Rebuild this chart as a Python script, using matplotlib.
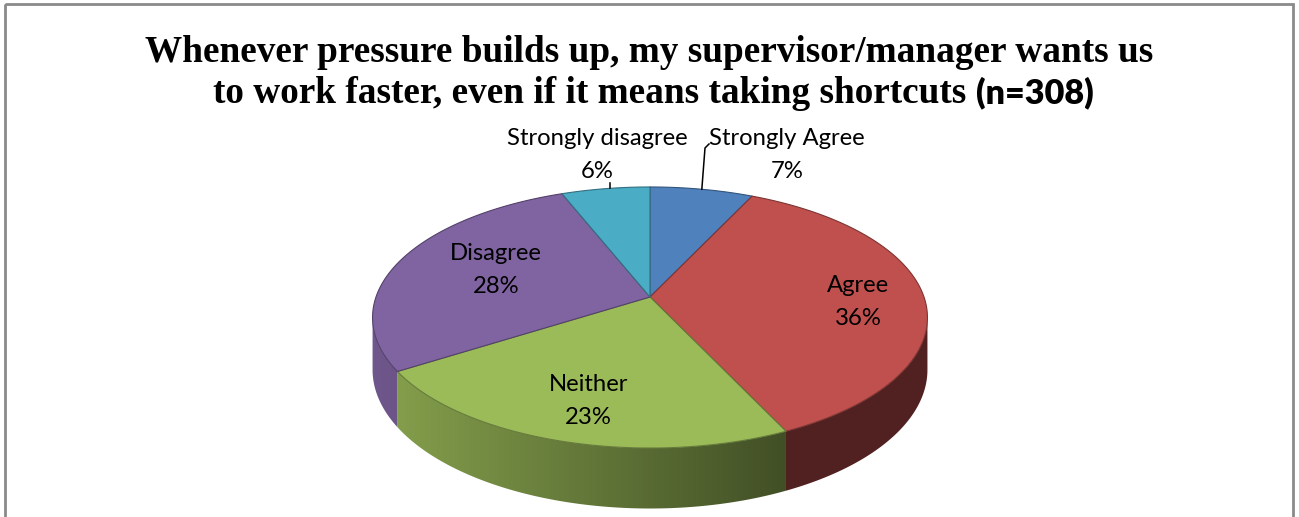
import numpy as np
import matplotlib
matplotlib.use('Agg')
import matplotlib.pyplot as plt
from matplotlib.patches import Polygon, Rectangle
from matplotlib.colors import to_rgb

# survey answers, clockwise from 12 o'clock
labels = ['Strongly Agree', 'Agree', 'Neither', 'Disagree', 'Strongly disagree']
shares = [7, 36, 23, 28, 6]
colors = ['#4F81BD', '#C0504D', '#9BBB59', '#8064A2', '#4BACC6']

title_1 = 'Whenever pressure builds up, my supervisor/manager wants us'
title_2 = 'to work faster, even if it means taking shortcuts'
title_n = '(n=308)'

W, H = 1299, 517
fig = plt.figure(figsize=(W / 100, H / 100), dpi=100)
ax = fig.add_axes([0, 0, 1, 1])
ax.set_xlim(0, W)
ax.set_ylim(H, 0)
ax.axis('off')

# tilted disc seen in perspective: (u, v) on the unit circle -> screen pixels
cx, cy = 650, 297
a, b, k = 274.0, 127.3, 0.157
depth = 51.0


def rim(theta, r=1.0):
    t = np.radians(theta)
    u, v = r * np.sin(t), r * np.cos(t)
    w = 1 + k * v
    return cx + a * u / w, cy - b * v / w, w


def shade(x):
    return np.clip(0.85 - (x - 390) / 400 * 0.43, 0.42, 0.88)


edges = np.concatenate([[0], np.cumsum(shares)]) / sum(shares) * 360
front = np.degrees(np.arccos(-k))          # silhouette angles
back = 360 - front

# side walls, only the front half is visible
for i, col in enumerate(colors):
    t0, t1 = max(edges[i], front), min(edges[i + 1], back)
    if t0 >= t1:
        continue
    ts = np.linspace(t0, t1, 120)
    x, y, w = rim(ts)
    yb = y + depth / w
    pts = np.column_stack([np.r_[x, x[::-1]], np.r_[y, yb[::-1]]])
    poly = Polygon(pts, closed=True, facecolor='none', edgecolor='none')
    ax.add_patch(poly)
    x0, x1 = x.min() - 2, x.max() + 2
    y0, y1 = y.min() - 2, yb.max() + 2
    xs = np.linspace(x0, x1, 300)
    grad = shade(xs)[None, :, None] * np.array(to_rgb(col))[None, None, :]
    grad = np.repeat(grad, 2, axis=0)
    im = ax.imshow(grad, extent=(x0, x1, y1, y0), aspect='auto',
                   interpolation='bilinear', zorder=2)
    im.set_clip_path(poly)

# top faces
for i, col in enumerate(colors):
    ts = np.linspace(edges[i], edges[i + 1], 200)
    x, y, _ = rim(ts)
    pts = np.column_stack([np.r_[cx, x], np.r_[cy, y]])
    edge = tuple(c * 0.65 for c in to_rgb(col))
    ax.add_patch(Polygon(pts, closed=True, facecolor=col, edgecolor=edge,
                         linewidth=0.8, joinstyle='round', zorder=3))

lab_font = dict(family='Lato', fontsize=17.2, color='black', ha='center',
                va='baseline', zorder=5)

# labels inside the larger slices
inside = {1: (0.76, 0), 2: (0.72, 0), 3: (0.64, 6)}
for i, (r, dt) in inside.items():
    mid = (edges[i] + edges[i + 1]) / 2 + dt
    x, y, _ = rim(mid, r)
    ax.text(x, y - 5, labels[i], **lab_font)
    ax.text(x, y + 28, f'{shares[i]}%', **lab_font)

# labels above the two thin slices, with leader lines
for i, lx in ((0, 787), (4, 597)):
    ax.text(lx, 145, labels[i], **lab_font)
    ax.text(lx, 178, f'{shares[i]}%', **lab_font)
mx, my, _ = rim((edges[0] + edges[1]) / 2)
ax.plot([mx, 705, 709], [my, 148, 144], color='black', lw=1.1, zorder=4)
mx, my, _ = rim((edges[4] + edges[5]) / 2)
ax.plot([mx + 4, mx + 4], [my - 1, my - 6], color='black', lw=1.1, zorder=4)

# title
tfont = dict(family='Liberation Serif', fontweight='bold', fontsize=26.8,
             color='black', va='baseline')
ax.text(649, 62, title_1, ha='center', **tfont)
ax.text(966, 103, title_2, ha='right', **tfont)
ax.text(976, 103, title_n, ha='left', family='Lato', fontweight='heavy',
        fontsize=24.6, va='baseline', color='black')

# chart frame
ax.add_patch(Rectangle((5, 4), 1288, 540, facecolor='none',
                       edgecolor='#8a8a8a', linewidth=2, zorder=6))

fig.savefig('out.png', dpi=100)
